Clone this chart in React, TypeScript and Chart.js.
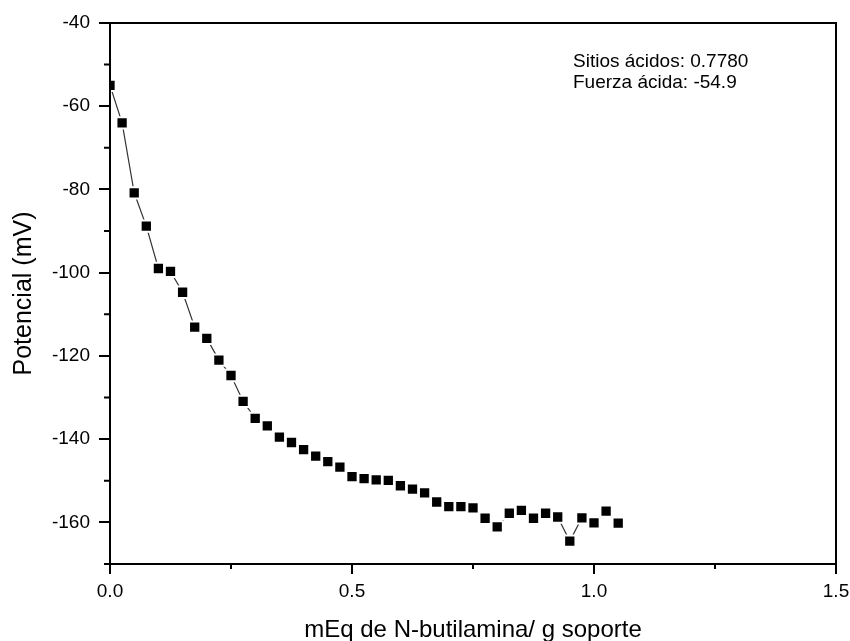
import React, { useEffect, useRef } from 'react';
import { Chart, registerables } from 'chart.js';

Chart.register(...registerables);

// mEq de N-butilamina / g soporte
const xValues = [
  0, 0.025, 0.05, 0.075, 0.1, 0.125, 0.15, 0.175, 0.2, 0.225,
  0.25, 0.275, 0.3, 0.325, 0.35, 0.375, 0.4, 0.425, 0.45, 0.475,
  0.5, 0.525, 0.55, 0.575, 0.6, 0.625, 0.65, 0.675, 0.7, 0.725,
  0.75, 0.775, 0.8, 0.825, 0.85, 0.875, 0.9, 0.925, 0.95, 0.975,
  1.0, 1.025, 1.05,
];

// Potencial (mV)
const potentialValues = [
  -55.0, -64.0, -80.8, -88.8, -99.0, -99.7, -104.7, -113.1, -115.8, -121.0,
  -124.7, -130.9, -135.0, -136.8, -139.5, -140.8, -142.5, -144.1, -145.4, -146.7,
  -149.0, -149.5, -149.8, -149.9, -151.2, -152.0, -152.9, -155.1, -156.2, -156.2,
  -156.5, -159.0, -161.1, -157.8, -157.1, -159.0, -157.8, -158.7, -164.5, -158.9,
  -160.1, -157.3, -160.2,
];

const xTickValues = [0, 0.5, 1.0, 1.5];
const xMinorTickValues = [0.25, 0.75, 1.25];
const yTickValues = [-160, -140, -120, -100, -80, -60, -40];
const yMinorTickValues = [-170, -150, -130, -110, -90, -70, -50];
const annotationLines = ['Sitios ácidos: 0.7780', 'Fuerza ácida: -54.9'];
const xTitle = 'mEq de N-butilamina/ g soporte';
const yTitle = 'Potencial (mV)';

const FONT = '"Liberation Sans", Arial, sans-serif';

const framePlugin = {
  id: 'originFrame',
  afterDraw(chart: any) {
    const { ctx, chartArea } = chart;
    const xs = chart.scales.x;
    const ys = chart.scales.y;
    ctx.save();
    ctx.strokeStyle = '#000';
    ctx.lineWidth = 2;
    ctx.strokeRect(
      chartArea.left,
      chartArea.top,
      chartArea.right - chartArea.left,
      chartArea.bottom - chartArea.top
    );
    ctx.beginPath();
    xMinorTickValues.forEach((v) => {
      const px = xs.getPixelForValue(v);
      ctx.moveTo(px, chartArea.bottom);
      ctx.lineTo(px, chartArea.bottom + 5);
    });
    yMinorTickValues.forEach((v) => {
      const py = ys.getPixelForValue(v);
      ctx.moveTo(chartArea.left, py);
      ctx.lineTo(chartArea.left - 6, py);
    });
    ctx.stroke();

    ctx.fillStyle = '#000';
    ctx.font = `19px ${FONT}`;
    ctx.textAlign = 'left';
    ctx.textBaseline = 'alphabetic';
    annotationLines.forEach((t, i) => {
      ctx.fillText(t, chartArea.left + 463, chartArea.top + 44 + i * 20.7);
    });
    ctx.restore();
  },
};

export default function App() {
  const canvasRef = useRef<HTMLCanvasElement | null>(null);

  useEffect(() => {
    if (!canvasRef.current) return;
    const chart = new Chart(canvasRef.current, {
      type: 'line',
      data: {
        datasets: [
          {
            data: xValues.map((x, i) => ({ x, y: potentialValues[i] })),
            borderColor: '#333',
            borderWidth: 1.2,
            pointStyle: 'rect',
            pointRadius: 8,
            pointBackgroundColor: '#000',
            pointBorderColor: '#fff',
            pointBorderWidth: 2,
            fill: false,
            tension: 0,
          },
        ],
      },
      options: {
        animation: false,
        responsive: true,
        maintainAspectRatio: false,
        layout: { padding: { left: 0, top: 23, right: 14, bottom: 0 } },
        plugins: {
          legend: { display: false },
          tooltip: { enabled: false },
          title: { display: false },
        },
        scales: {
          x: {
            type: 'linear',
            min: 0,
            max: 1.5,
            afterBuildTicks: (s: any) => {
              s.ticks = xTickValues.map((v) => ({ value: v }));
            },
            afterFit: (s: any) => {
              s.height = 77;
              s.paddingRight = 0;
              s.paddingLeft = 0;
            },
            ticks: {
              autoSkip: false,
              maxRotation: 0,
              padding: 6,
              color: '#000',
              font: { family: FONT, size: 19 },
              callback: (v: any) => Number(v).toFixed(1),
            },
            grid: {
              display: true,
              drawOnChartArea: false,
              drawTicks: true,
              tickLength: 10,
              color: '#000',
              lineWidth: 2,
            },
            border: { display: false },
            title: {
              display: true,
              text: xTitle,
              color: '#000',
              font: { family: FONT, size: 24, lineHeight: 0.9 },
              padding: { top: 0, bottom: 0 },
            },
          },
          y: {
            type: 'linear',
            min: -170,
            max: -40,
            afterBuildTicks: (s: any) => {
              s.ticks = yTickValues.map((v) => ({ value: v }));
            },
            afterFit: (s: any) => {
              s.width = 110;
              s.paddingTop = 0;
              s.paddingBottom = 0;
            },
            ticks: {
              autoSkip: false,
              padding: 9,
              color: '#000',
              font: { family: FONT, size: 19 },
              callback: (v: any) => String(v),
            },
            grid: {
              display: true,
              drawOnChartArea: false,
              drawTicks: true,
              tickLength: 11,
              color: '#000',
              lineWidth: 2,
            },
            border: { display: false },
            title: {
              display: true,
              text: yTitle,
              color: '#000',
              font: { family: FONT, size: 25 },
              padding: { top: 9, bottom: 0 },
            },
          },
        },
      },
      plugins: [framePlugin],
    });
    return () => chart.destroy();
  }, []);

  return (
    <div
      style={{
        position: 'absolute',
        left: 0,
        top: 0,
        width: 850,
        height: 641,
        background: '#fff',
      }}
    >
      <canvas ref={canvasRef} />
    </div>
  );
}
